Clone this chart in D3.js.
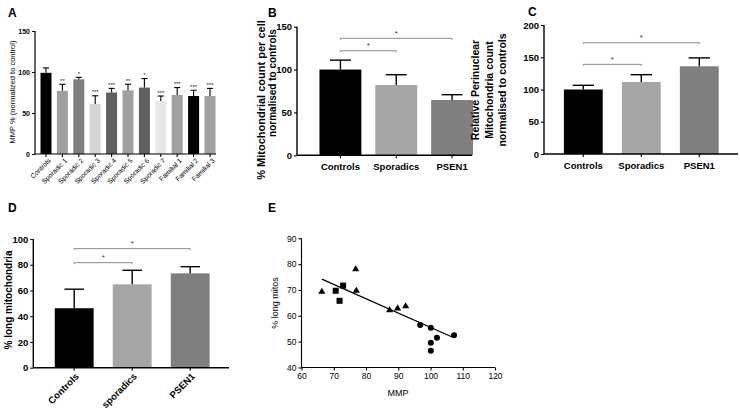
<!DOCTYPE html>
<html><head><meta charset="utf-8">
<script src="https://cdn.jsdelivr.net/npm/d3@7"></script>
<style>
body{margin:0;background:#fff;}
svg{display:block;font-family:"Liberation Sans",Arial,sans-serif;}
</style></head>
<body>
<svg id="c" width="740" height="413"></svg>
<script>
// ---------- DATA ----------
const aCats = ["Controls","Sporadic 1","Sporadic 2","Sporadic 3","Sporadic 4","Sporadic 5","Sporadic 6","Sporadic 7","Familial 1","Familial 2","Familial 3"];
const aValues = [99, 77, 91, 61, 75, 77.7, 81, 64.6, 72, 70.7, 70.7];
const aErrors = [6, 8, 2.5, 10, 5, 7.3, 11, 6.1, 9, 7, 9.3];
const aStars = ["", "**", "*", "***", "***", "**", "*", "***", "***", "***", "***"];
const aTicks = [0, 50, 100, 150];

const bCats = ["Controls","Sporadics","PSEN1"];
const bValues = [100, 82, 64.5];
const bErrors = [11, 12, 6.2];
const bTicks = [0, 50, 100, 150];
const bBrackets = [[0,1,122],[0,2,136.5]];

const cCats = ["Controls","Sporadics","PSEN1"];
const cValues = [100, 111.6, 136];
const cErrors = [6.5, 11.4, 13];
const cTicks = [0, 50, 100, 150, 200];
const cBrackets = [[0,1,139],[0,2,172.5]];

const dCats = ["Controls","sporadics","PSEN1"];
const dValues = [46.2, 64.8, 73.3];
const dErrors = [14.8, 10.9, 5.2];
const dTicks = [0, 20, 40, 60, 80, 100];
const dBrackets = [[0,1,81.6],[0,2,92.5]];

const eTriangles = [[66.3,69.3],[76.8,78.0],[77.0,69.7],[87.3,62.2],[89.8,62.9],[92.3,63.7]];
const eSquares = [[70.6,69.7],[72.9,71.7],[71.8,65.8]];
const eCircles = [[96.8,56.4],[100.1,55.4],[100.1,49.6],[100.1,46.5],[102.0,51.5],[107.3,52.5]];
const eFitX = [66.3, 106.9];
const eFitY = [74.2, 51.7];
const eXTicks = [60, 70, 80, 90, 100, 110, 120];
const eYTicks = [40, 50, 60, 70, 80, 90];

// ---------- STYLES ----------
const aColors = ["#000000","#a0a0a0","#7f7f7f","#d6d6d6","#5f5f5f","#a0a0a0","#5f5f5f","#e8e8e8","#a0a0a0","#000000","#a0a0a0"];
const grpColors = ["#000000","#a5a5a5","#7f7f7f"];

const svg = d3.select("#c");

function panelLetter(t, x, y){
  svg.append("text").attr("x",x).attr("y",y).text(t)
    .attr("font-size",12).attr("font-weight","bold").attr("fill","#000");
}

function styleAxis(g, fs, fw){
  g.selectAll("path.domain").remove();
  g.selectAll("line").attr("stroke","#000").attr("stroke-width",1.1);
  g.selectAll("text").attr("font-size",fs).attr("font-weight",fw)
    .attr("font-family","'Liberation Sans',Arial,sans-serif").attr("fill","#000");
}

function barPanel(o){
  const g = svg.append("g");
  const x = d3.scaleBand().domain(o.cats).range(o.xr).paddingInner(o.pad).paddingOuter(o.pad/2);
  const y = d3.scaleLinear().domain([0, o.ymax]).range(o.yr);
  g.selectAll("rect.bar").data(o.values).enter().append("rect")
    .attr("x",(d,i)=>x(o.cats[i])).attr("width",x.bandwidth())
    .attr("y",d=>y(d)).attr("height",d=>y(0)-y(d))
    .attr("fill",(d,i)=>o.colors[i]);
  const cap = x.bandwidth()*o.capFrac/2;
  o.values.forEach((v,i)=>{
    const cx = x(o.cats[i]) + x.bandwidth()/2;
    g.append("line").attr("x1",cx).attr("x2",cx).attr("y1",y(v)).attr("y2",y(v+o.errors[i]))
      .attr("stroke","#000").attr("stroke-width",o.ew);
    g.append("line").attr("x1",cx-cap).attr("x2",cx+cap).attr("y1",y(v+o.errors[i])).attr("y2",y(v+o.errors[i]))
      .attr("stroke","#000").attr("stroke-width",o.ew);
    if(o.stars && o.stars[i]){
      g.append("text").attr("x",cx).attr("y",y(v+o.errors[i])-1.5).attr("text-anchor","middle")
        .attr("font-size",o.starSize).attr("fill","#222").text(o.stars[i]);
    }
  });
  const ya = g.append("g").attr("transform",`translate(${o.axisX},0)`)
    .call(d3.axisLeft(y).tickValues(o.ticks).tickSize(3).tickPadding(2));
  styleAxis(ya, o.tfs, o.tfw);
  g.append("line").attr("x1",o.axisX).attr("x2",o.axisX).attr("y1",y(o.ymax)).attr("y2",y(0))
    .attr("stroke","#000").attr("stroke-width",o.aw);
  const xa = g.append("g").attr("transform",`translate(0,${y(0)})`)
    .call(d3.axisBottom(x).tickSize(3).tickPadding(o.xpad));
  styleAxis(xa, o.xfs, o.xfw);
  if(o.rotate){
    xa.attr("opacity",0.999);
    xa.selectAll("text").attr("text-anchor","end").attr("x",0).attr("y",0).attr("dy","0.35em")
      .attr("transform",`translate(${o.rdx},${o.rdy}) rotate(-45)`);
  }
  g.append("line").attr("x1",o.axisX).attr("x2",o.axisEnd).attr("y1",y(0)).attr("y2",y(0))
    .attr("stroke","#000").attr("stroke-width",o.aw);
  (o.brackets||[]).forEach(b=>{
    const x1 = x(o.cats[b[0]]) + x.bandwidth()/2, x2 = x(o.cats[b[1]]) + x.bandwidth()/2, yy = y(b[2]);
    g.append("path").attr("d",`M${x1},${yy+1.5}V${yy}H${x2}V${yy+1.5}`)
      .attr("fill","none").attr("stroke","#8c8c8c").attr("stroke-width",1);
    g.append("text").attr("x",(x1+x2)/2).attr("y",yy-2.5).attr("text-anchor","middle")
      .attr("font-size",8).attr("fill","#333").text("*");
  });
  return {g,x,y};
}

// ---------- PANEL A ----------
panelLetter("A", 8, 17);
barPanel({cats:aCats, values:aValues, errors:aErrors, stars:aStars, colors:aColors,
  xr:[37.8,218.2], pad:0.33, ymax:150, yr:[154,31], ticks:aTicks, axisX:35, axisEnd:216,
  capFrac:0.55, ew:1.1, aw:1.2, tfs:7, tfw:"bold", xfs:6.8, xfw:"normal", xpad:2,
  rotate:true, rdx:3.5, rdy:5.5, starSize:6});
svg.append("text").attr("transform","translate(15,92) rotate(-90)").attr("text-anchor","middle")
  .attr("font-size",7.5).text("MMP % (normalized to control)");

// ---------- PANEL B ----------
panelLetter("B", 268, 17);
barPanel({cats:bCats, values:bValues, errors:bErrors, colors:grpColors, brackets:bBrackets,
  xr:[312.5,480], pad:0.25, ymax:150, yr:[155.3,26.7], ticks:bTicks, axisX:297, axisEnd:472,
  capFrac:0.5, ew:1.4, aw:1.4, tfs:9.5, tfw:"bold", xfs:9.5, xfw:"bold", xpad:5});
svg.append("text").attr("transform","translate(264.5,100) rotate(-90)").attr("text-anchor","middle")
  .attr("font-size",11).attr("font-weight","bold").text("% Mitochondrial count per cell");
svg.append("text").attr("transform","translate(275.5,83) rotate(-90)").attr("text-anchor","middle")
  .attr("font-size",10).attr("font-weight","bold").text("normalised to controls");

// ---------- PANEL C ----------
panelLetter("C", 528, 16);
barPanel({cats:cCats, values:cValues, errors:cErrors, colors:grpColors, brackets:cBrackets,
  xr:[554.3,728.3], pad:0.33, ymax:200, yr:[154,25], ticks:cTicks, axisX:544, axisEnd:738,
  capFrac:0.55, ew:1.4, aw:1.4, tfs:9.5, tfw:"bold", xfs:9.5, xfw:"bold", xpad:5});
[["Relative Perinuclear",479],["Mitochondria count",493],["normalised to controls",506]].forEach(l=>{
  svg.append("text").attr("transform",`translate(${l[1]},90) rotate(-90)`).attr("text-anchor","middle")
    .attr("font-size",10.5).attr("font-weight","bold").text(l[0]);
});

// ---------- PANEL D ----------
panelLetter("D", 8, 212);
barPanel({cats:dCats, values:dValues, errors:dErrors, colors:grpColors, brackets:dBrackets,
  xr:[45.2,219.2], pad:0.33, ymax:100, yr:[367.7,239], ticks:dTicks, axisX:33.3, axisEnd:229,
  capFrac:0.5, ew:1.4, aw:1.4, tfs:9.5, tfw:"bold", xfs:9.5, xfw:"bold", xpad:3,
  rotate:true, rdx:3, rdy:7});
svg.append("text").attr("transform","translate(12,300) rotate(-90)").attr("text-anchor","middle")
  .attr("font-size",10).attr("font-weight","bold").text("% long mitochondria");

// ---------- PANEL E ----------
panelLetter("E", 268, 212);
const ex = d3.scaleLinear().domain([60,120]).range([301.5,495]);
const ey = d3.scaleLinear().domain([40,90]).range([367.5,238.3]);
const eg = svg.append("g");
const exa = eg.append("g").attr("transform","translate(0,367.5)")
  .call(d3.axisBottom(ex).tickValues(eXTicks).tickSize(3).tickPadding(2));
styleAxis(exa, 8.5, "normal");
const eya = eg.append("g").attr("transform","translate(301.5,0)")
  .call(d3.axisLeft(ey).tickValues(eYTicks).tickSize(3).tickPadding(2));
styleAxis(eya, 8.5, "normal");
eg.append("line").attr("x1",301.5).attr("x2",495).attr("y1",367.5).attr("y2",367.5).attr("stroke","#000").attr("stroke-width",1.1);
eg.append("line").attr("x1",301.5).attr("x2",301.5).attr("y1",238.3).attr("y2",367.5).attr("stroke","#000").attr("stroke-width",1.1);
eg.append("line").attr("x1",ex(eFitX[0])).attr("y1",ey(eFitY[0])).attr("x2",ex(eFitX[1])).attr("y2",ey(eFitY[1]))
  .attr("stroke","#000").attr("stroke-width",1.3);
eg.selectAll("path.tri").data(eTriangles).enter().append("path")
  .attr("d",d3.symbol().type(d3.symbolTriangle).size(22))
  .attr("transform",d=>`translate(${ex(d[0])},${ey(d[1])})`).attr("fill","#000");
eg.selectAll("rect.sq").data(eSquares).enter().append("rect")
  .attr("x",d=>ex(d[0])-3).attr("y",d=>ey(d[1])-3).attr("width",6).attr("height",6).attr("fill","#000");
eg.selectAll("circle.ci").data(eCircles).enter().append("circle")
  .attr("cx",d=>ex(d[0])).attr("cy",d=>ey(d[1])).attr("r",3).attr("fill","#000");
svg.append("text").attr("x",398).attr("y",396).attr("text-anchor","middle").attr("font-size",9).text("MMP");
svg.append("text").attr("transform","translate(278,303) rotate(-90)").attr("text-anchor","middle")
  .attr("font-size",9).text("% long mitos");
</script>
</body></html>
